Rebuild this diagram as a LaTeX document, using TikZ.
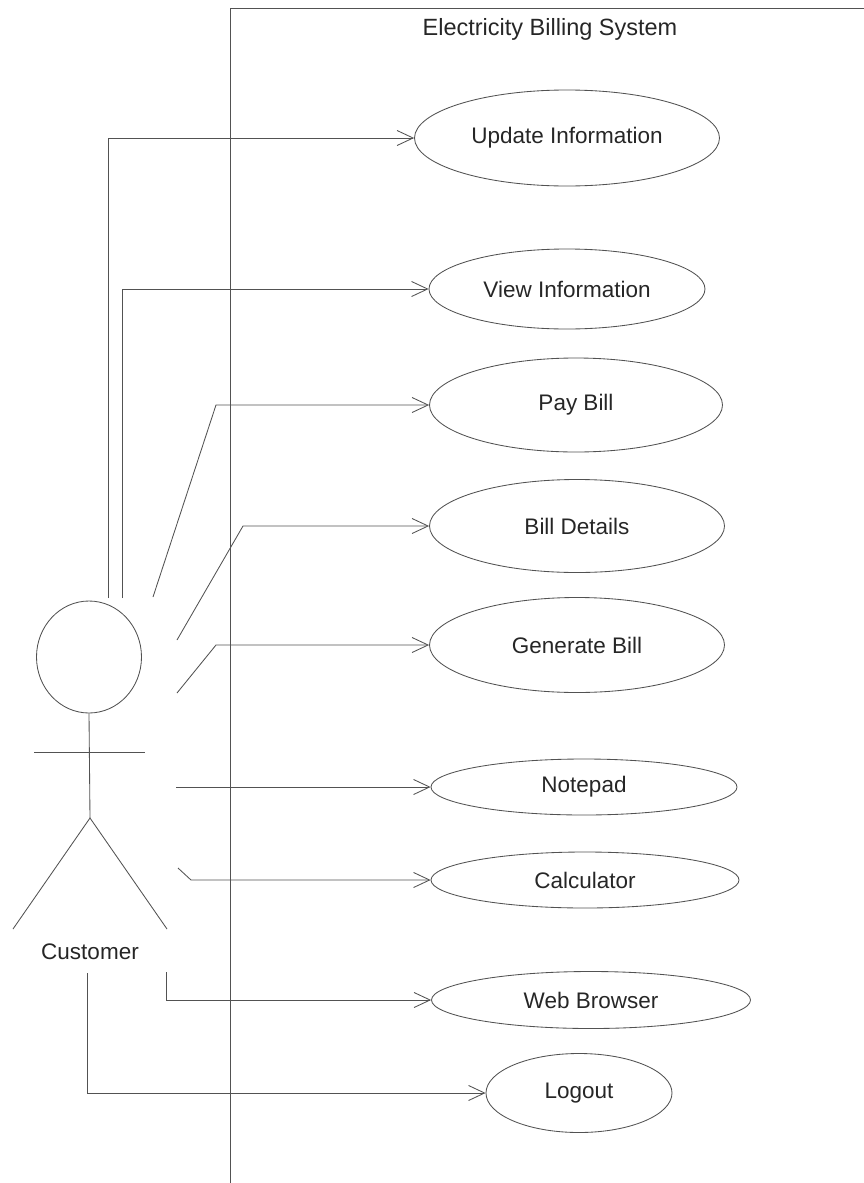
\documentclass[tikz,border=0pt]{standalone}
\usepackage{fontspec}
\setmainfont{Liberation Sans}
\usetikzlibrary{shapes.geometric,arrows.meta}
\begin{document}
\begin{tikzpicture}[x=1pt,y=-1pt,
  line/.style={draw=black!68, line width=0.85pt},
  usecase/.style={ellipse, draw=black!68, line width=0.85pt, inner sep=0pt,
    text=black!85, font=\fontsize{22.5}{26}\selectfont},
  label/.style={text=black!85, inner sep=0pt, font=\fontsize{22.5}{26}\selectfont},
  assoc/.style={line, line join=miter, -{Straight Barb[length=16pt,width=15pt]}}]
\useasboundingbox (0,0) rectangle (864,1183);

% system boundary
\coordinate (bTR) at (864,8);
\coordinate (bTL) at (230,8);
\coordinate (bBL) at (230,1183);
\draw[line] (bTR) -- (bTL) -- (bBL);
\node[label, anchor=base, font=\fontsize{23.5}{28}\selectfont] (title) at (550,35) {Electricity Billing System};

% use cases
\node[usecase, minimum width=305pt, minimum height=96pt] (ui) at (567,138) {Update Information};
\node[usecase, minimum width=276pt, minimum height=80pt] (vi) at (567,289) {View Information};
\node[usecase, minimum width=293pt, minimum height=94pt] (pb) at (576,405) {Pay Bill};
\node[usecase, minimum width=295pt, minimum height=93pt] (bd) at (577,526) {Bill Details};
\node[usecase, minimum width=295pt, minimum height=95pt] (gb) at (577,645) {Generate Bill};
\node[usecase, minimum width=306pt, minimum height=56pt] (np) at (584,787) {Notepad};
\node[usecase, minimum width=308pt, minimum height=56pt] (ca) at (585,880) {Calculator};
\node[usecase, minimum width=319pt, minimum height=57pt] (wb) at (591,1000) {Web Browser};
\node[usecase, minimum width=186pt, minimum height=79pt] (lo) at (579,1093) {Logout};

% actor
\node[ellipse, line, minimum width=105pt, minimum height=112pt, inner sep=0pt] (head) at (89,657) {};
\coordinate (hip) at (90,818);
\coordinate (armL) at (34,752);
\coordinate (armR) at (145,752);
\coordinate (footL) at (13,929);
\coordinate (footR) at (167,929);
\draw[line] (head.south) -- (hip);
\draw[line] (armL) -- (armR);
\draw[line, line join=miter] (footL) -- (hip) -- (footR);
\node[label] (actor) at (90,952) {Customer};

% associations
\coordinate (s1) at (108,598);
\coordinate (s2) at (122,598);
\coordinate (s3) at (153,597);
\coordinate (k3) at (216,405);
\coordinate (s4) at (177,640);
\coordinate (k4) at (243,526);
\coordinate (s5) at (177,693);
\coordinate (k5) at (216,645);
\coordinate (s6) at (176,787);
\coordinate (s7) at (178,868);
\coordinate (k7) at (191,880);
\coordinate (s8) at (166,972);
\coordinate (s9) at (87,973);

\draw[assoc] (s1) |- (ui.west);
\draw[assoc] (s2) |- (vi.west);
\draw[assoc] (s3) -- (k3) -- (pb.west);
\draw[assoc] (s4) -- (k4) -- (bd.west);
\draw[assoc] (s5) -- (k5) -- (gb.west);
\draw[assoc] (s6) -- (np.west);
\draw[assoc] (s7) -- (k7) -- (ca.west);
\draw[assoc] (s8) |- (wb.west);
\draw[assoc] (s9) |- (lo.west);
\end{tikzpicture}
\end{document}
